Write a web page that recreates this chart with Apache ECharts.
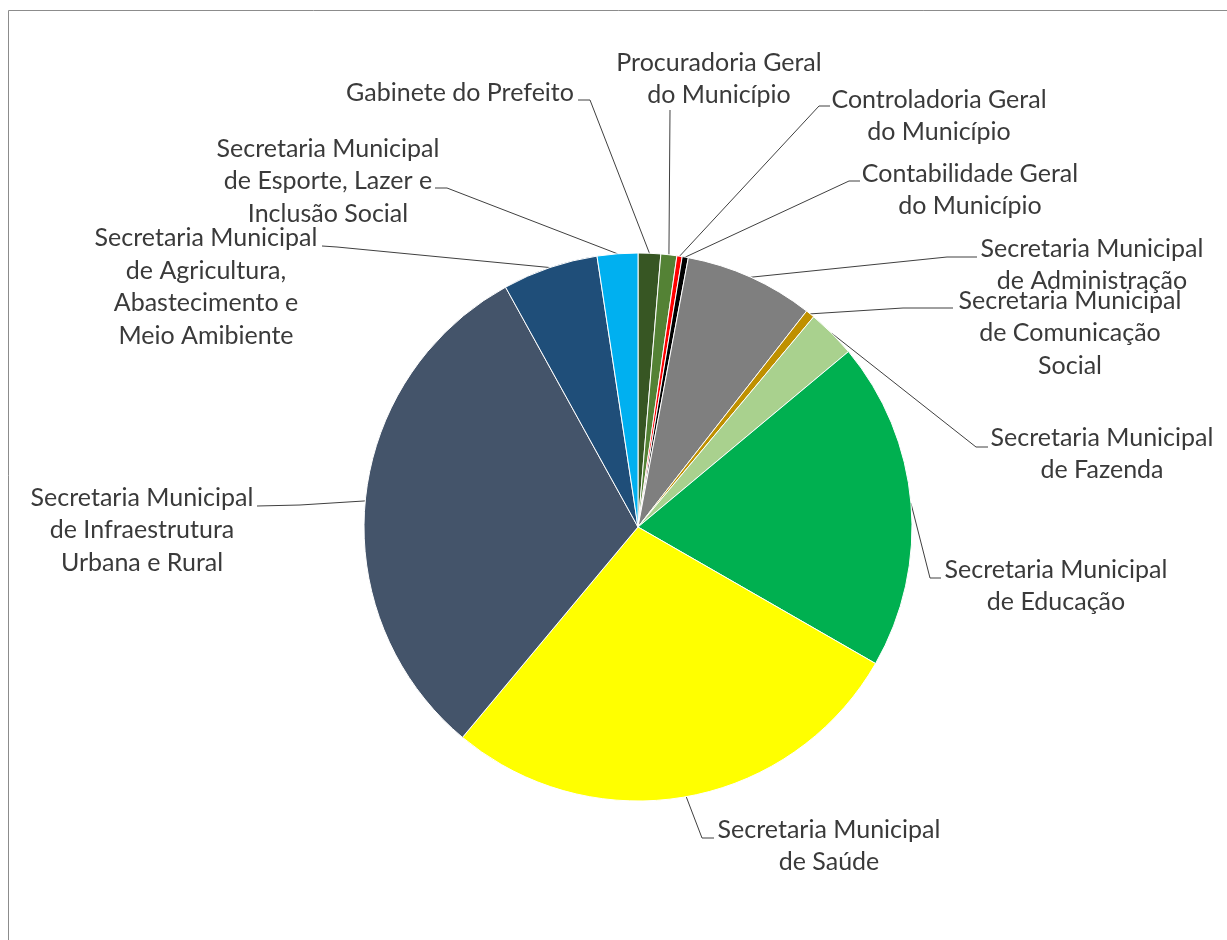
<!DOCTYPE html>
<html>
<head>
<meta charset="utf-8">
<script src="https://cdn.jsdelivr.net/npm/echarts@6/dist/echarts.min.js"></script>
<style>
html,body{margin:0;padding:0;background:#fff;}
#chart{width:1227px;height:940px;}
</style>
</head>
<body>
<div id="chart"></div>
<script>
// ---- data ----
const categories = [
  "Gabinete do Prefeito",
  "Procuradoria Geral\ndo Município",
  "Controladoria Geral\ndo Município",
  "Contabilidade Geral\ndo Município",
  "Secretaria Municipal\nde Administração",
  "Secretaria Municipal\nde Comunicação\nSocial",
  "Secretaria Municipal\nde Fazenda",
  "Secretaria Municipal\nde Educação",
  "Secretaria Municipal\nde Saúde",
  "Secretaria Municipal\nde Infraestrutura\nUrbana e Rural",
  "Secretaria Municipal\nde Agricultura,\nAbastecimento e\nMeio Amibiente",
  "Secretaria Municipal\nde Esporte, Lazer e\nInclusão Social"
];
const values = [1.33, 0.94, 0.31, 0.36, 7.61, 0.53, 2.86, 19.36, 27.76, 30.90, 5.64, 2.39];

// ---- styles / layout ----
const colors = ["#375623","#548235","#ff0000","#000000","#7f7f7f","#bf9000","#a9d18e","#00b050","#ffff00","#44546a","#1f4e79","#00b0f0"];
const labelCenters = [
  [460, 93], [719, 79], [939, 116], [970, 190], [1092, 265], [1070, 333],
  [1102, 454], [1056, 586], [829, 846], [142, 530], [206, 287], [328, 181]
];
const lineElbows = [
  [590, 100], [670, 110], [819, 106], [849, 181], [947, 257], [903, 308],
  [976, 447], [930, 578], [702, 838], [300, 505], [337, 247], [447, 188]
];
const lineEnds = [
  [578, 100], [670, 110], [830, 106], [860, 181], [977, 257], [953, 308],
  [988, 447], [941, 578], [714, 838], [257, 506], [322, 246], [435, 188]
];

const chart = echarts.init(document.getElementById('chart'), null, {renderer: 'canvas'});
chart.setOption({
  animation: false,
  backgroundColor: '#ffffff',
  graphic: [{
    type: 'rect',
    shape: {x: 8.5, y: 10.5, width: 1260, height: 960},
    style: {fill: 'none', stroke: '#8c8c8c', lineWidth: 1},
    silent: true
  }],
  series: [{
    type: 'pie',
    center: [638, 527],
    radius: 274,
    startAngle: 90,
    clockwise: true,
    avoidLabelOverlap: false,
    data: categories.map((c, i) => ({name: c, value: values[i], itemStyle: {color: colors[i]}})),
    itemStyle: {borderColor: '#ffffff', borderWidth: 1},
    label: {
      show: true,
      position: 'outside',
      formatter: '{b}',
      fontFamily: 'Lato',
      fontSize: 25,
      lineHeight: 32.5,
      color: '#3a3a3a',
      align: 'center'
    },
    labelLine: {
      show: true,
      length: 10,
      length2: 10,
      lineStyle: {color: '#404040', width: 1}
    },
    labelLayout: function (params) {
      const i = params.dataIndex;
      const start = params.labelLinePoints && params.labelLinePoints[0];
      const res = {
        x: labelCenters[i][0],
        y: labelCenters[i][1],
        align: 'center',
        verticalAlign: 'middle'
      };
      if (start) {
        res.labelLinePoints = [start, lineElbows[i], lineEnds[i]];
      }
      return res;
    },
    emphasis: {disabled: true}
  }]
});
</script>
</body>
</html>
